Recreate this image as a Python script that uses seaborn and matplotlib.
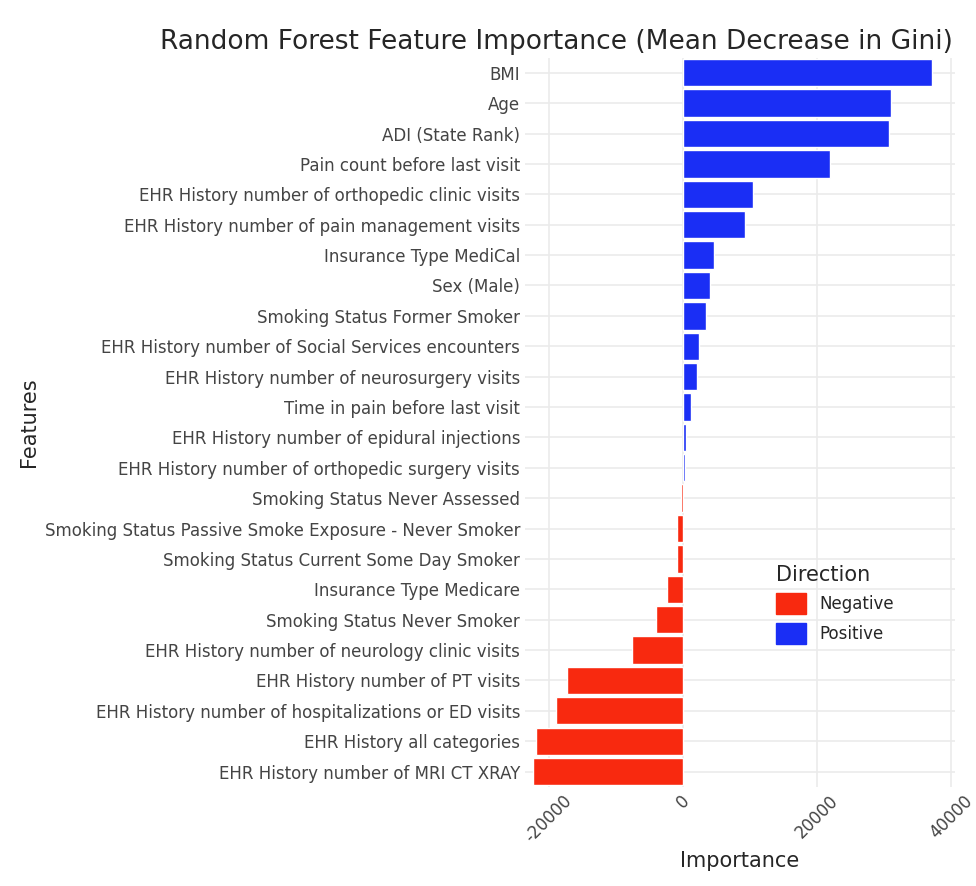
import matplotlib
matplotlib.use("Agg")
import matplotlib.pyplot as plt
import seaborn as sns
import pandas as pd
from matplotlib.patches import Patch

features = [
    "BMI", "Age", "ADI (State Rank)", "Pain count before last visit",
    "EHR History number of orthopedic clinic visits",
    "EHR History number of pain management visits",
    "Insurance Type MediCal", "Sex (Male)", "Smoking Status Former Smoker",
    "EHR History number of Social Services encounters",
    "EHR History number of neurosurgery visits",
    "Time in pain before last visit",
    "EHR History number of epidural injections",
    "EHR History number of orthopedic surgery visits",
    "Smoking Status Never Assessed",
    "Smoking Status Passive Smoke Exposure - Never Smoker",
    "Smoking Status Current Some Day Smoker",
    "Insurance Type Medicare", "Smoking Status Never Smoker",
    "EHR History number of neurology clinic visits",
    "EHR History number of PT visits",
    "EHR History number of hospitalizations or ED visits",
    "EHR History all categories",
    "EHR History number of MRI CT XRAY",
]
importance = [37100, 31100, 30700, 22000, 10400, 9300, 4600, 4100, 3400, 2400,
              2100, 1200, 500, 300, -300, -900, -900, -2400, -4000, -7500,
              -17300, -18900, -21800, -22300]

df = pd.DataFrame({"Feature": features, "Importance": importance})
df["Direction"] = ["Positive" if v > 0 else "Negative" for v in df["Importance"]]
colors = {"Negative": "#F8290F", "Positive": "#1A2EF5"}

sns.set_theme(style="whitegrid")
plt.rcParams["font.family"] = ["DejaVu Sans"]
fig, ax = plt.subplots(figsize=(9.76, 8.86), dpi=100)
sns.barplot(data=df, x="Importance", y="Feature", hue="Direction", palette=colors,
            dodge=False, width=0.9, ax=ax, legend=False, saturation=1)
fig.subplots_adjust(left=0.538, right=0.978, top=0.935, bottom=0.112)

ax.set_xlim(-23500, 40500)
ax.set_xticks([-20000, 0, 20000, 40000])
ax.set_xticklabels(["-20000", "0", "20000", "40000"], rotation=45, fontsize=12, color="#444444")
ax.tick_params(axis="y", labelsize=12, labelcolor="#444444", length=0)
ax.tick_params(axis="x", length=0)
ax.set_xlabel("Importance", fontsize=15)
ax.set_ylabel("Features", fontsize=15)
ax.set_title("Random Forest Feature Importance (Mean Decrease in Gini)", fontsize=19, loc="right", x=0.995)
for s in ax.spines.values():
    s.set_visible(False)
ax.grid(True, axis="both", color="#EBEBEB", linewidth=1.2)
ax.set_axisbelow(True)

handles = [Patch(color=colors["Negative"], label="Negative"),
           Patch(color=colors["Positive"], label="Positive")]
ax.legend(handles=handles, title="Direction", frameon=False, fontsize=12, title_fontsize=15,
          loc="center left", bbox_to_anchor=(0.55, 0.25), alignment="left",
          handlelength=1.8, handleheight=1.6)

fig.savefig("out.png", dpi=100)
